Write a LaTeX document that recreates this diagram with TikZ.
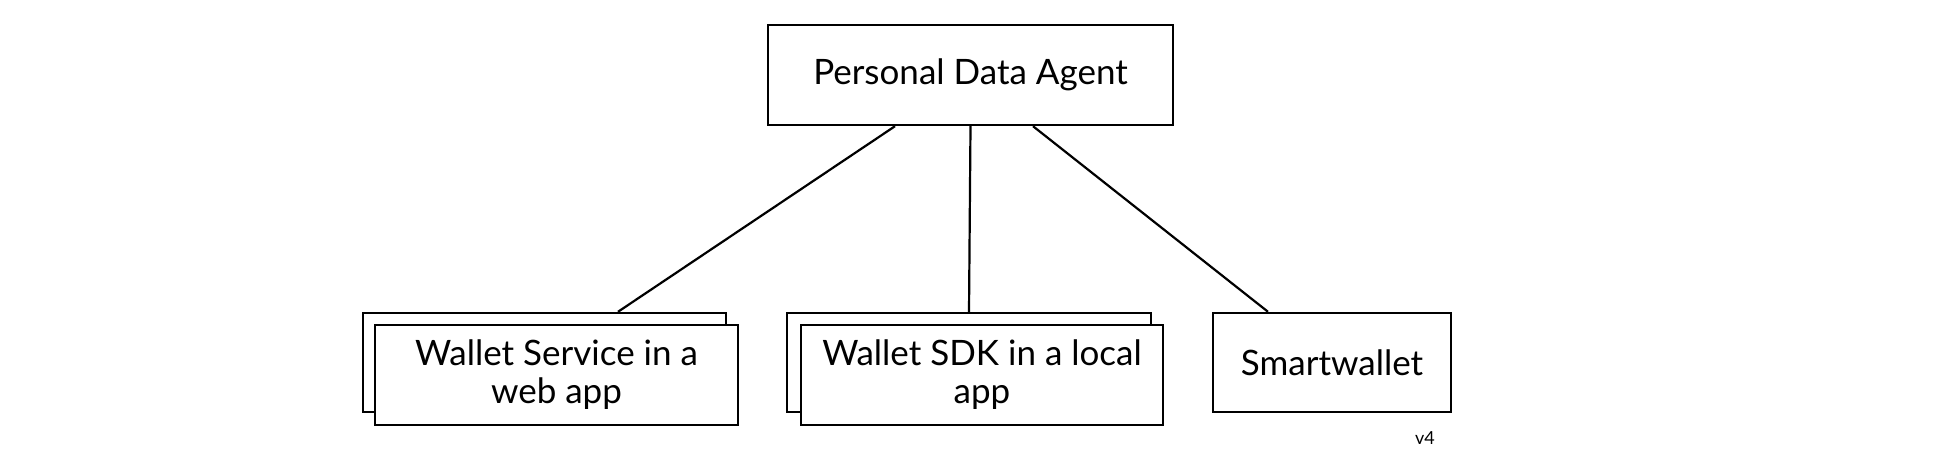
\documentclass[tikz,border=0pt]{standalone}
\usepackage{fontspec}
\setmainfont{Lato}
\usetikzlibrary{positioning}

\tikzset{
  box/.style={shape=rectangle,draw=black,line width=1.2pt,fill=white,
    align=center,font=\fontsize{17.5}{19}\selectfont,inner sep=0pt},
  link/.style={line width=1.1pt}
}

\begin{document}
\begin{tikzpicture}[x=0.5pt,y=-0.5pt]
    \useasboundingbox (0,0) rectangle (1949,474);

    \node[box,minimum width=202.5pt,minimum height=50pt] (pda) at (970.5,75) {Personal Data Agent};

    \node[box,minimum width=181.5pt,minimum height=49.5pt] (wsback) at (544.5,362.5) {};
    \node[box,minimum width=181.5pt,minimum height=50pt] (ws) at (556.5,375) {Wallet Service in a\\web app};

    \node[box,minimum width=182pt,minimum height=49.5pt] (sdkback) at (969,362.5) {};
    \node[box,minimum width=181pt,minimum height=50pt] (sdk) at (982,375) {Wallet SDK in a local\\app};

    \node[box,minimum width=119pt,minimum height=49.5pt] (sw) at (1332,362.5) {Smartwallet};

    \node[font=\fontsize{9}{11}\selectfont] (ver) at (1425,438) {v4};

     \draw[link] ([xshift=-37.75pt]pda.south) -- ([xshift=36.75pt]wsback.north);
     \draw[link] (pda.south) -- (sdkback.north);
     \draw[link] ([xshift=31.25pt]pda.south) -- ([xshift=-32pt]sw.north);
\end{tikzpicture}
\end{document}
